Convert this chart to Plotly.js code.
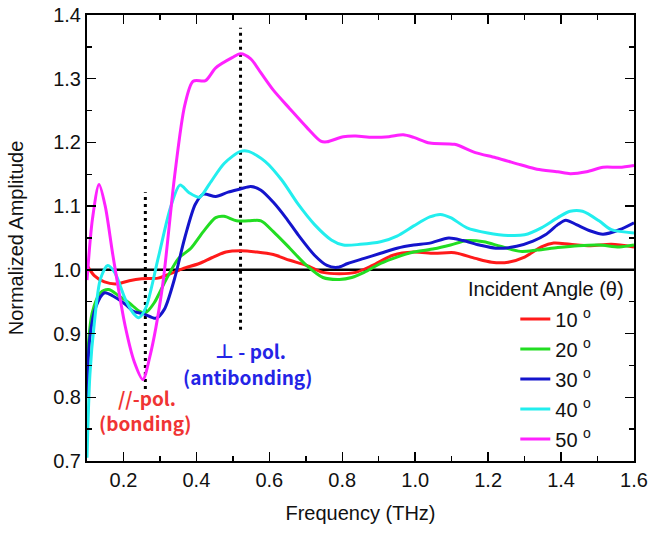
<!DOCTYPE html>
<html>
<head>
<meta charset="utf-8">
<script src="https://cdn.plot.ly/plotly-3.0.1.min.js"></script>
<style>html,body{margin:0;padding:0;background:#fff;}#chart{width:648px;height:533px;}</style>
</head>
<body>
<div id="chart"></div>
<script>
// Frequency (THz) and normalized amplitude
const angleLabels = ["10 <sup>o</sup>", "20 <sup>o</sup>", "30 <sup>o</sup>", "40 <sup>o</sup>", "50 <sup>o</sup>"];

const x10 = [0.100,0.120,0.148,0.182,0.216,0.250,0.295,0.329,0.363,0.408,0.442,0.481,0.521,0.566,0.611,0.656,0.702,0.747,0.792,0.837,0.883,0.939,0.996,1.052,1.108,1.165,1.210,1.255,1.300,1.346,1.380,1.425,1.481,1.538,1.600];
const y10 = [1.007,0.991,0.981,0.978,0.983,0.986,0.987,0.994,1.002,1.010,1.019,1.028,1.030,1.028,1.024,1.015,1.007,0.996,0.994,0.996,1.007,1.023,1.028,1.026,1.027,1.018,1.012,1.012,1.020,1.036,1.042,1.040,1.038,1.040,1.036];

const x20 = [0.100,0.114,0.137,0.159,0.188,0.216,0.244,0.261,0.284,0.318,0.351,0.385,0.419,0.453,0.476,0.510,0.543,0.577,0.611,0.656,0.702,0.747,0.792,0.826,0.860,0.905,0.950,0.996,1.052,1.097,1.142,1.188,1.233,1.289,1.334,1.391,1.447,1.504,1.560,1.600];
const y20 = [0.850,0.932,0.964,0.969,0.959,0.948,0.935,0.933,0.948,0.986,1.018,1.034,1.060,1.082,1.084,1.077,1.077,1.077,1.060,1.034,1.007,0.988,0.985,0.988,0.996,1.010,1.020,1.028,1.033,1.039,1.046,1.044,1.037,1.029,1.031,1.035,1.038,1.039,1.036,1.039];

const x30 = [0.100,0.108,0.125,0.148,0.171,0.205,0.227,0.255,0.289,0.312,0.340,0.368,0.397,0.419,0.453,0.487,0.521,0.549,0.577,0.611,0.645,0.679,0.724,0.758,0.787,0.815,0.860,0.905,0.950,0.996,1.040,1.092,1.131,1.176,1.221,1.278,1.323,1.357,1.391,1.413,1.442,1.481,1.515,1.560,1.600];
const y30 = [0.800,0.895,0.943,0.964,0.959,0.946,0.935,0.931,0.924,0.938,0.986,1.050,1.103,1.119,1.115,1.122,1.127,1.131,1.125,1.106,1.082,1.055,1.023,1.007,1.004,1.010,1.018,1.026,1.034,1.039,1.042,1.050,1.046,1.039,1.034,1.037,1.045,1.055,1.071,1.078,1.071,1.061,1.056,1.063,1.074];

const x40 = [0.100,0.108,0.120,0.137,0.157,0.176,0.205,0.227,0.242,0.261,0.295,0.329,0.355,0.380,0.408,0.436,0.476,0.521,0.543,0.589,0.634,0.679,0.724,0.770,0.803,0.849,0.905,0.950,0.996,1.040,1.069,1.097,1.142,1.199,1.255,1.300,1.346,1.391,1.425,1.459,1.504,1.538,1.600];
const y40 = [0.705,0.836,0.916,0.986,1.007,0.996,0.954,0.932,0.925,0.940,1.018,1.098,1.133,1.121,1.114,1.135,1.167,1.186,1.186,1.170,1.141,1.103,1.071,1.047,1.039,1.040,1.044,1.053,1.069,1.083,1.087,1.082,1.066,1.058,1.054,1.055,1.066,1.082,1.092,1.092,1.077,1.063,1.058];

const x50 = [0.100,0.115,0.133,0.150,0.171,0.205,0.230,0.253,0.272,0.306,0.340,0.368,0.391,0.425,0.453,0.498,0.521,0.549,0.577,0.611,0.656,0.702,0.741,0.758,0.803,0.837,0.883,0.928,0.967,0.996,1.040,1.108,1.165,1.221,1.289,1.334,1.391,1.425,1.470,1.515,1.560,1.600];
const y50 = [0.984,1.080,1.134,1.100,1.023,0.911,0.855,0.828,0.863,0.970,1.146,1.258,1.296,1.297,1.317,1.333,1.339,1.331,1.309,1.282,1.253,1.224,1.202,1.201,1.209,1.210,1.208,1.209,1.212,1.208,1.199,1.197,1.184,1.176,1.165,1.158,1.154,1.151,1.154,1.161,1.161,1.164];

const xs = [x10, x20, x30, x40, x50];
const ys = [y10, y20, y30, y40, y50];
const colors = ["#ff1a1a", "#22dd22", "#1414cc", "#22eeee", "#ff22ff"];

// reference line and dotted markers
const refX = [0.1, 1.6];
const refY = [1.0, 1.0];
const bondX = [0.26, 0.26];
const bondY = [0.813, 1.122];
const antiX = [0.521, 0.521];
const antiY = [0.906, 1.38];

const traces = [];
traces.push({x: refX, y: refY, mode: "lines", line: {color: "#000", width: 2.5}, showlegend: false, hoverinfo: "skip"});
traces.push({x: bondX, y: bondY, mode: "lines", line: {color: "#000", width: 3, dash: "3px,4px"}, showlegend: false, hoverinfo: "skip"});
traces.push({x: antiX, y: antiY, mode: "lines", line: {color: "#000", width: 3, dash: "3px,4px"}, showlegend: false, hoverinfo: "skip"});
for (let i = 0; i < xs.length; i++) {
  traces.push({
    x: xs[i], y: ys[i], mode: "lines", name: angleLabels[i],
    legendgroup: "g" + i,
    line: {color: colors[i], width: 3, shape: "spline", smoothing: 0.8}
  });
}

const FAM = "Liberation Sans, Arial, sans-serif";
const tickFont = {family: FAM, size: 20, color: "#111"};
const layout = {
  width: 648, height: 533,
  margin: {l: 87, r: 14, t: 15, b: 72},
  paper_bgcolor: "#fff", plot_bgcolor: "#fff",
  font: {family: FAM, color: "#111"},
  xaxis: {
    range: [0.1, 1.6], tick0: 0.2, dtick: 0.2, tickformat: ".1f",
    ticks: "inside", ticklen: 9, tickwidth: 1.5, tickcolor: "#000",
    minor: {dtick: 0.1, ticks: "inside", ticklen: 5, tickwidth: 1.5, tickcolor: "#000"},
    showline: true, linecolor: "#000", linewidth: 2, mirror: "ticks",
    showgrid: false, zeroline: false, tickfont: tickFont,
    title: {text: "Frequency (THz)", font: {family: FAM, size: 20, color: "#111"}, standoff: 16}
  },
  yaxis: {
    range: [0.7, 1.4], tick0: 0.7, dtick: 0.1, tickformat: ".1f",
    ticks: "inside", ticklen: 9, tickwidth: 1.5, tickcolor: "#000",
    minor: {dtick: 0.05, ticks: "inside", ticklen: 5, tickwidth: 1.5, tickcolor: "#000"},
    showline: true, linecolor: "#000", linewidth: 2, mirror: "ticks",
    showgrid: false, zeroline: false, tickfont: tickFont,
    title: {text: "Normalized Amplitude", font: {family: FAM, size: 20, color: "#111"}, standoff: 24}
  },
  legend: {
    x: 0.783, y: 0.362, xanchor: "left", yanchor: "top",
    bgcolor: "rgba(0,0,0,0)", borderwidth: 0,
    font: {family: FAM, size: 20, color: "#111"},
    tracegroupgap: 1
  },
  annotations: [
    {xref: "paper", yref: "paper", x: 0.985, y: 0.385, xanchor: "right", yanchor: "middle", showarrow: false,
     text: "Incident Angle (θ)", font: {family: FAM, size: 20, color: "#111"}},
    {xref: "x", yref: "y", x: 0.547, y: 0.874, showarrow: false, text: "<b>⊥ - pol.</b>",
     font: {family: "Noto Sans CJK JP, Noto Sans, sans-serif", size: 19, color: "#2424e6"}},
    {xref: "x", yref: "y", x: 0.541, y: 0.832, showarrow: false, text: "<b>(antibonding)</b>",
     font: {family: "Noto Sans CJK JP, Noto Sans, sans-serif", size: 19, color: "#2424e6"}},
    {xref: "x", yref: "y", x: 0.265, y: 0.800, showarrow: false, text: "<b>//-pol.</b>",
     font: {family: "Noto Sans CJK JP, Noto Sans, sans-serif", size: 19, color: "#f03434"}},
    {xref: "x", yref: "y", x: 0.259, y: 0.760, showarrow: false, text: "<b>(bonding)</b>",
     font: {family: "Noto Sans CJK JP, Noto Sans, sans-serif", size: 19, color: "#f03434"}}
  ]
};

Plotly.newPlot("chart", traces, layout, {staticPlot: true, displayModeBar: false});
</script>
</body>
</html>
